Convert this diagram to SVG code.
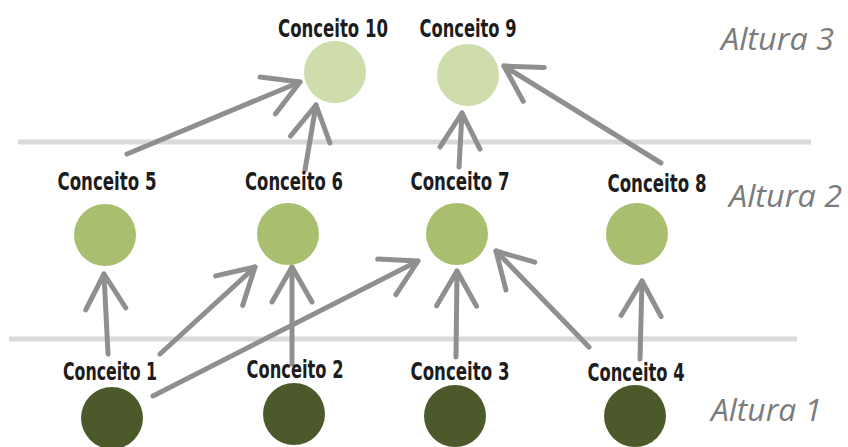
<svg xmlns="http://www.w3.org/2000/svg" width="848" height="447" viewBox="0 0 848 447">
  <style>
    .lvl { stroke: #dadada; stroke-width: 5; fill: none; }
    .edge { stroke: #8f8f8f; stroke-width: 5; fill: none; stroke-linecap: round; }
    .n1 { fill: #4c5a2b; }
    .n2 { fill: #a9bf6f; }
    .n3 { fill: #cfdcab; }
    .lbl { font-family: "DejaVu Sans Condensed", "Liberation Sans Narrow", "DejaVu Sans", sans-serif; font-stretch: condensed; font-weight: bold; font-size: 25px; fill: #1c1c1c; text-anchor: middle; }
    .alt { font-family: "Open Sans", "DejaVu Sans", sans-serif; font-style: italic; font-size: 31px; fill: #7c7c7c; }
  </style>
  <defs>
    <marker id="head" markerUnits="userSpaceOnUse" orient="auto" viewBox="-40 -24 44 48" refX="0" refY="0" markerWidth="44" markerHeight="48">
      <path d="M-35,-20 L0,0 L-35,20" stroke="#8f8f8f" stroke-width="5" fill="none" stroke-linecap="round" stroke-linejoin="round"/>
    </marker>
  </defs>

  <!-- level separators -->
  <line class="lvl" x1="18" y1="142" x2="811" y2="142"/>
  <line class="lvl" x1="9" y1="339" x2="797" y2="339"/>

  <!-- connectors -->
  <g id="connectors">
    <line class="edge" x1="127" y1="154" x2="300" y2="82" marker-end="url(#head)"/>
    <line class="edge" x1="305" y1="170" x2="316" y2="105" marker-end="url(#head)"/>
    <line class="edge" x1="459" y1="167" x2="462" y2="113" marker-end="url(#head)"/>
    <line class="edge" x1="661" y1="163" x2="504" y2="66" marker-end="url(#head)"/>
    <line class="edge" x1="108" y1="354" x2="104" y2="274" marker-end="url(#head)"/>
    <line class="edge" x1="160" y1="354" x2="255" y2="267" marker-end="url(#head)"/>
    <line class="edge" x1="153" y1="396" x2="418" y2="261" marker-end="url(#head)"/>
    <line class="edge" x1="292" y1="364" x2="292" y2="267" marker-end="url(#head)"/>
    <line class="edge" x1="456" y1="357" x2="457" y2="271" marker-end="url(#head)"/>
    <line class="edge" x1="589" y1="347" x2="496" y2="251" marker-end="url(#head)"/>
    <line class="edge" x1="640" y1="359" x2="642" y2="281" marker-end="url(#head)"/>
  </g>

  <!-- height 3 -->
  <g id="conceito10">
    <circle class="n3" cx="335" cy="72" r="31"/>
    <text class="lbl" x="333" y="37" textLength="110" lengthAdjust="spacingAndGlyphs">Conceito 10</text>
  </g>
  <g id="conceito9">
    <circle class="n3" cx="468" cy="75" r="31"/>
    <text class="lbl" x="468" y="37" textLength="97" lengthAdjust="spacingAndGlyphs">Conceito 9</text>
  </g>

  <!-- height 2 -->
  <g id="conceito5">
    <circle class="n2" cx="105" cy="235" r="31"/>
    <text class="lbl" x="107" y="190" textLength="99" lengthAdjust="spacingAndGlyphs">Conceito 5</text>
  </g>
  <g id="conceito6">
    <circle class="n2" cx="288" cy="234" r="31"/>
    <text class="lbl" x="294" y="190" textLength="98" lengthAdjust="spacingAndGlyphs">Conceito 6</text>
  </g>
  <g id="conceito7">
    <circle class="n2" cx="457" cy="234" r="31"/>
    <text class="lbl" x="460" y="190" textLength="99" lengthAdjust="spacingAndGlyphs">Conceito 7</text>
  </g>
  <g id="conceito8">
    <circle class="n2" cx="637" cy="234" r="31"/>
    <text class="lbl" x="657" y="192" textLength="99" lengthAdjust="spacingAndGlyphs">Conceito 8</text>
  </g>

  <!-- height 1 -->
  <g id="conceito1">
    <circle class="n1" cx="112" cy="418" r="31"/>
    <text class="lbl" x="110" y="380" textLength="94" lengthAdjust="spacingAndGlyphs">Conceito 1</text>
  </g>
  <g id="conceito2">
    <circle class="n1" cx="294" cy="414" r="31"/>
    <text class="lbl" x="295" y="378" textLength="97" lengthAdjust="spacingAndGlyphs">Conceito 2</text>
  </g>
  <g id="conceito3">
    <circle class="n1" cx="455" cy="416" r="31"/>
    <text class="lbl" x="460" y="380" textLength="99" lengthAdjust="spacingAndGlyphs">Conceito 3</text>
  </g>
  <g id="conceito4">
    <circle class="n1" cx="635" cy="416" r="31"/>
    <text class="lbl" x="636" y="381" textLength="97" lengthAdjust="spacingAndGlyphs">Conceito 4</text>
  </g>

  <!-- height captions -->
  <text class="alt" x="721" y="50" textLength="113" lengthAdjust="spacingAndGlyphs">Altura 3</text>
  <text class="alt" x="729" y="207" textLength="113" lengthAdjust="spacingAndGlyphs">Altura 2</text>
  <text class="alt" x="711" y="421" textLength="111" lengthAdjust="spacingAndGlyphs">Altura 1</text>
</svg>
